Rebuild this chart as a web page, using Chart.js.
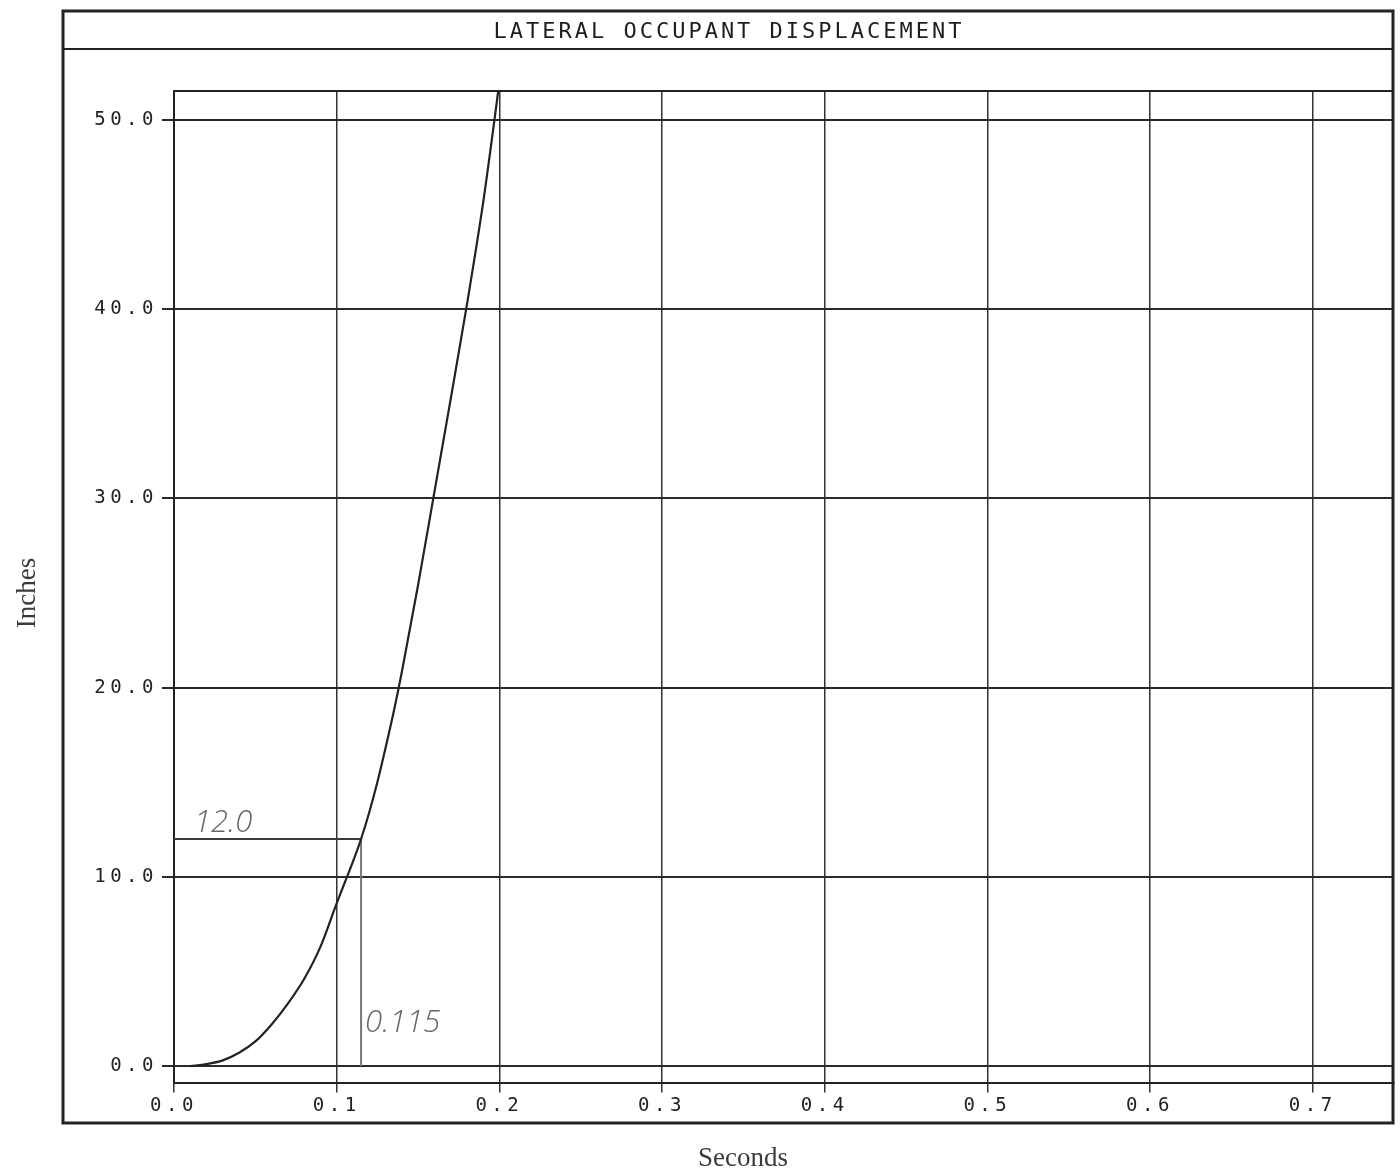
<!DOCTYPE html>
<html>
<head>
<meta charset="utf-8">
<title>Lateral Occupant Displacement</title>
<script src="https://cdn.jsdelivr.net/npm/chart.js@4.4.1/dist/chart.umd.min.js"></script>
<style>
  html, body { margin: 0; padding: 0; background: #fff; }
  #wrap { position: relative; width: 1400px; height: 1175px; }
</style>
</head>
<body>
<div id="wrap"><canvas id="chart" width="1400" height="1175"></canvas></div>
<script>
// ---- text ----
const chartTitle = 'LATERAL OCCUPANT DISPLACEMENT';
const xAxisTitle = 'Seconds';
const yAxisTitle = 'Inches';

// ---- displacement history ----
const timeSeconds = [0.010, 0.020, 0.030, 0.040, 0.050, 0.060, 0.070, 0.080, 0.090, 0.100,
                     0.105, 0.110, 0.115, 0.120, 0.125, 0.130, 0.135, 0.140, 0.150, 0.160,
                     0.170, 0.180, 0.190, 0.197, 0.200];
const displacementInches = [0.0, 0.1, 0.3, 0.7, 1.3, 2.2, 3.3, 4.6, 6.3, 8.6,
                            9.7, 10.8, 12.0, 13.4, 15.0, 16.8, 18.7, 20.8, 25.4, 30.3,
                            35.2, 40.2, 45.6, 50.0, 52.0];

// ---- tick values ----
const xTicks = [0.0, 0.1, 0.2, 0.3, 0.4, 0.5, 0.6, 0.7];
const yTicks = [0, 10, 20, 30, 40, 50];

// ---- 12 inch marker ----
const markerValue = 12.0;
const markerTime = 0.115;

const plotterFont = '"DejaVu Sans Mono", "Liberation Mono", monospace';

const framePlugin = {
  id: 'plotFrame',
  beforeDraw(chart) {
    const c = chart.ctx;
    c.save();
    c.fillStyle = '#ffffff';
    c.fillRect(0, 0, chart.width, chart.height);
    c.restore();
    // wide pen-plotter spacing for the tick labels
    c.letterSpacing = '4.5px';
  },
  afterDraw(chart) {
    const c = chart.ctx;
    const a = chart.chartArea;
    const xs = chart.scales.x;
    const ys = chart.scales.y;
    c.save();
    c.letterSpacing = '0px';
    c.strokeStyle = '#222';

    // outer sheet border
    c.lineWidth = 3;
    c.strokeRect(63, 11, 1330, 1112);

    // title band and top edge of the plot box
    c.lineWidth = 2;
    c.beginPath();
    c.moveTo(63, 49); c.lineTo(1393, 49);
    c.moveTo(a.left, a.top); c.lineTo(a.right, a.top);
    c.stroke();

    // title
    c.fillStyle = '#1e1e1e';
    c.font = '22px ' + plotterFont;
    c.letterSpacing = '3px';
    c.textAlign = 'center';
    c.textBaseline = 'middle';
    c.fillText(chartTitle, 729, 32);

    // axis titles
    c.letterSpacing = '0px';
    c.fillStyle = '#3a3a3a';
    c.font = '27px "Liberation Serif", "DejaVu Serif", serif';
    c.fillText(xAxisTitle, 743, 1159);
    c.save();
    c.translate(28, 593);
    c.rotate(-Math.PI / 2);
    c.fillText(yAxisTitle, 0, 0);
    c.restore();

    // marker labels
    c.fillStyle = '#666';
    c.font = 'italic 300 31px "Open Sans", "Liberation Sans", sans-serif';
    c.textAlign = 'left';
    c.textBaseline = 'alphabetic';
    c.fillText(markerValue.toFixed(1), xs.getPixelForValue(0) + 20, ys.getPixelForValue(markerValue) - 7);
    c.fillText(String(markerTime), xs.getPixelForValue(markerTime) + 4, ys.getPixelForValue(0) - 34);
    c.restore();
  }
};

new Chart(document.getElementById('chart').getContext('2d'), {
  type: 'line',
  data: {
    datasets: [
      {
        label: 'Displacement',
        data: timeSeconds.map((t, i) => ({ x: t, y: displacementInches[i] })),
        borderColor: '#222',
        borderWidth: 2.2,
        pointRadius: 0,
        cubicInterpolationMode: 'monotone',
        order: 0
      },
      {
        label: 'Level marker',
        data: [{ x: 0, y: markerValue }, { x: markerTime, y: markerValue }],
        borderColor: '#3a3a3a',
        borderWidth: 2,
        pointRadius: 0,
        order: 1
      },
      {
        label: 'Time marker',
        data: [{ x: markerTime, y: markerValue }, { x: markerTime, y: 0 }],
        borderColor: '#777',
        borderWidth: 2,
        pointRadius: 0,
        order: 2
      }
    ]
  },
  options: {
    responsive: false,
    animation: false,
    devicePixelRatio: 1,
    layout: { padding: { left: 0, right: 6, top: 91, bottom: 0 } },
    plugins: { legend: { display: false }, tooltip: { enabled: false }, title: { display: false } },
    scales: {
      x: {
        type: 'linear',
        min: 0,
        max: 0.75,
        afterBuildTicks: s => { s.ticks = xTicks.map(v => ({ value: v })); },
        afterFit: s => { s.height = 92.5; },
        grid: { color: '#333', lineWidth: 1.5, tickLength: 10, drawTicks: true },
        border: { display: true, color: '#222', width: 2 },
        ticks: {
          padding: 2,
          color: '#222',
          maxRotation: 0,
          autoSkip: false,
          font: { family: plotterFont, size: 19 },
          callback: v => Number(v).toFixed(1)
        }
      },
      y: {
        type: 'linear',
        min: -0.87,
        max: 51.53,
        afterBuildTicks: s => { s.ticks = yTicks.map(v => ({ value: v })); },
        afterFit: s => { s.width = 174; },
        grid: { color: '#2a2a2a', lineWidth: 2, tickLength: 12, drawTicks: true },
        border: { display: true, color: '#222', width: 2 },
        ticks: {
          padding: 4,
          color: '#222',
          font: { family: plotterFont, size: 19 },
          callback: v => Number(v).toFixed(1)
        }
      }
    }
  },
  plugins: [framePlugin]
});
</script>
</body>
</html>
